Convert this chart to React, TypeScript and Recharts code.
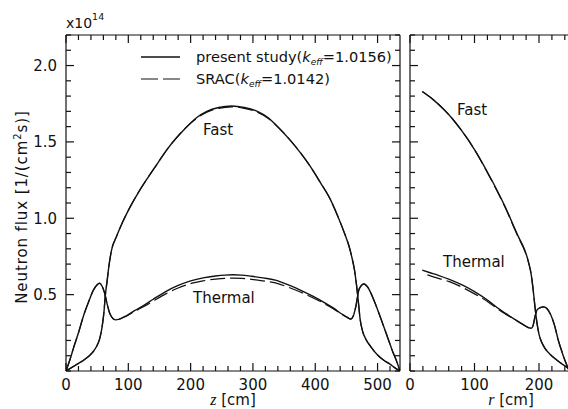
import React from 'react';
import { LineChart, Line, XAxis, YAxis } from 'recharts';

const FONT = "'DejaVu Sans', sans-serif";
const INK = '#111';

// ---------- Left panel: axial distribution, z [cm] ----------
const zFast = [0, 8, 18, 28, 40, 49, 54, 58, 61, 63, 66, 68, 73, 81, 92, 103, 117, 132, 147, 162, 178, 194, 210, 226, 245, 266, 286, 307, 324, 342, 360, 376, 392, 408, 424, 436, 448, 454, 459, 463, 466, 469, 472, 476, 481, 489, 500, 510, 520, 528, 536];
const fastZPresent = [0, 0.02, 0.045, 0.07, 0.11, 0.16, 0.21, 0.29, 0.39, 0.49, 0.59, 0.66, 0.79, 0.88, 0.985, 1.075, 1.175, 1.27, 1.36, 1.45, 1.53, 1.60, 1.66, 1.70, 1.725, 1.735, 1.725, 1.70, 1.66, 1.59, 1.51, 1.43, 1.34, 1.235, 1.125, 1.015, 0.89, 0.82, 0.74, 0.66, 0.57, 0.46, 0.34, 0.26, 0.21, 0.16, 0.105, 0.07, 0.045, 0.02, 0];
const fastZSrac = [0, 0.02, 0.045, 0.07, 0.11, 0.16, 0.21, 0.29, 0.39, 0.49, 0.59, 0.66, 0.79, 0.88, 0.985, 1.075, 1.175, 1.27, 1.36, 1.45, 1.53, 1.60, 1.655, 1.695, 1.72, 1.73, 1.72, 1.695, 1.655, 1.59, 1.51, 1.43, 1.34, 1.235, 1.125, 1.015, 0.89, 0.82, 0.74, 0.66, 0.57, 0.46, 0.34, 0.26, 0.21, 0.16, 0.105, 0.07, 0.045, 0.02, 0];

const zTherm = [0, 6, 12, 20, 28, 36, 44, 50, 54, 58, 62, 66, 70, 75, 79, 86, 96, 110, 125, 140, 160, 180, 200, 220, 240, 255, 268, 282, 298, 316, 336, 356, 376, 396, 416, 430, 442, 450, 457, 461, 465, 470, 474, 478, 484, 494, 502, 510, 517, 524, 530, 536];
const thermZPresent = [0, 0.07, 0.15, 0.25, 0.36, 0.45, 0.53, 0.565, 0.575, 0.555, 0.51, 0.44, 0.38, 0.345, 0.335, 0.34, 0.36, 0.395, 0.43, 0.47, 0.52, 0.56, 0.59, 0.61, 0.622, 0.628, 0.63, 0.628, 0.62, 0.61, 0.595, 0.565, 0.53, 0.49, 0.445, 0.41, 0.375, 0.355, 0.34, 0.36, 0.42, 0.53, 0.56, 0.57, 0.55, 0.465, 0.38, 0.29, 0.21, 0.13, 0.07, 0];
const thermZSrac = [0, 0.07, 0.15, 0.25, 0.36, 0.45, 0.53, 0.565, 0.575, 0.555, 0.51, 0.44, 0.38, 0.345, 0.335, 0.34, 0.357, 0.39, 0.422, 0.458, 0.505, 0.543, 0.572, 0.59, 0.602, 0.607, 0.608, 0.606, 0.6, 0.59, 0.577, 0.55, 0.517, 0.48, 0.438, 0.405, 0.372, 0.353, 0.34, 0.36, 0.42, 0.53, 0.56, 0.57, 0.55, 0.465, 0.38, 0.29, 0.21, 0.13, 0.07, 0];

// ---------- Right panel: radial distribution, r [cm] ----------
const rFast = [19, 35, 53, 66, 79, 100, 121, 147, 168, 178, 184, 188, 191, 194, 197, 200, 204, 209, 217, 228, 236, 243, 246];
const fastRPresent = [1.83, 1.78, 1.71, 1.65, 1.58, 1.45, 1.295, 1.08, 0.88, 0.79, 0.71, 0.63, 0.53, 0.41, 0.31, 0.24, 0.19, 0.15, 0.11, 0.07, 0.045, 0.025, 0.015];
const fastRSrac = [1.83, 1.78, 1.71, 1.65, 1.58, 1.45, 1.29, 1.075, 0.875, 0.785, 0.705, 0.63, 0.53, 0.41, 0.31, 0.24, 0.19, 0.15, 0.11, 0.07, 0.045, 0.025, 0.015];

const rTherm = [19, 30, 45, 61, 80, 100, 120, 140, 160, 175, 183, 188, 191, 194, 197, 202, 207, 212, 218, 224, 230, 236, 241, 246];
const thermRPresent = [0.66, 0.645, 0.625, 0.60, 0.565, 0.52, 0.465, 0.40, 0.345, 0.305, 0.285, 0.28, 0.30, 0.36, 0.40, 0.415, 0.42, 0.41, 0.37, 0.30, 0.20, 0.12, 0.06, 0.01];
const rThermSrac = [27, 45, 61, 80, 100, 120, 140, 160, 175, 183, 188, 191, 194, 197, 202, 207, 212, 218, 224, 230, 236, 241, 246];
const thermRSrac = [0.63, 0.605, 0.585, 0.55, 0.505, 0.455, 0.395, 0.343, 0.305, 0.285, 0.28, 0.30, 0.36, 0.40, 0.415, 0.42, 0.41, 0.37, 0.30, 0.20, 0.12, 0.06, 0.01];

// ---------- Ticks ----------
const yTicks = [0, 0.1, 0.2, 0.3, 0.4, 0.5, 0.6, 0.7, 0.8, 0.9, 1.0, 1.1, 1.2, 1.3, 1.4, 1.5, 1.6, 1.7, 1.8, 1.9, 2.0, 2.1, 2.2];
const yLabels = ['0.5', '1.0', '1.5', '2.0'];
const zTicks = [0, 20, 40, 60, 80, 100, 120, 140, 160, 180, 200, 220, 240, 260, 280, 300, 320, 340, 360, 380, 400, 420, 440, 460, 480, 500, 520];
const zLabels = ['0', '100', '200', '300', '400', '500'];
const rTicks = [0, 20, 40, 60, 80, 100, 120, 140, 160, 180, 200, 220, 240];
const rLabels = ['0', '100', '200'];

const zip = (xs: number[], vs: number[]) => xs.map((x, i) => ({ x, v: vs[i] }));

const fmtY = (v: number) => Number(v).toFixed(1);
const fmtX = (v: number) => String(Math.round(Number(v)));

const MAJ = 8;
const MIN = 5;

const BottomTick = (props: any) => {
  const x = Number(props.x), y = Number(props.y);
  const lbl = fmtX(props.payload.value);
  const major = props.labels.includes(lbl);
  return (
    <g>
      <path d={`M${x},${y}V${y - (major ? MAJ : MIN)}`} stroke={INK} strokeWidth={1.2} fill="none" />
      {major && (
        <text x={x} y={y + 19} textAnchor="middle" fontFamily={FONT} fontSize={15} fill={INK}>{lbl}</text>
      )}
    </g>
  );
};

const TopTick = (props: any) => {
  const x = Number(props.x), y = Number(props.y);
  const major = props.labels.includes(fmtX(props.payload.value));
  return <path d={`M${x},${y}V${y + (major ? MAJ : MIN)}`} stroke={INK} strokeWidth={1.2} fill="none" />;
};

const LeftTick = (props: any) => {
  const x = Number(props.x), y = Number(props.y);
  const lbl = fmtY(props.payload.value);
  const major = props.labels.includes(lbl);
  return (
    <g>
      <path d={`M${x},${y}H${x + (major ? MAJ : MIN)}`} stroke={INK} strokeWidth={1.2} fill="none" />
      {major && props.showLabel && (
        <text x={x - 9} y={y + 5.5} textAnchor="end" fontFamily={FONT} fontSize={15} fill={INK}>{lbl}</text>
      )}
    </g>
  );
};

const RightTick = (props: any) => {
  const x = Number(props.x), y = Number(props.y);
  const major = props.labels.includes(fmtY(props.payload.value));
  return <path d={`M${x},${y}H${x - (major ? MAJ : MIN)}`} stroke={INK} strokeWidth={1.2} fill="none" />;
};

const SOLID = { stroke: INK, strokeWidth: 1.4, dot: false, isAnimationActive: false, type: 'monotone' as const };
const DASH = { stroke: INK, strokeWidth: 1.2, strokeDasharray: '15 5', dot: false, isAnimationActive: false, type: 'monotone' as const };

const LeftPanel = () => (
  <LineChart width={410} height={409} margin={{ top: 0, right: 0, bottom: 0, left: 0 }}>
    <XAxis xAxisId="b" orientation="bottom" type="number" dataKey="x" domain={[0, 536]} ticks={zTicks} interval={0}
      height={38} tickSize={0} tickMargin={0} tickLine={false} axisLine={{ stroke: INK, strokeWidth: 1.2 }}
      tick={<BottomTick labels={zLabels} />} allowDataOverflow />
    <XAxis xAxisId="t" orientation="top" type="number" dataKey="x" domain={[0, 536]} ticks={zTicks} interval={0}
      height={35} tickSize={0} tickMargin={0} tickLine={false} axisLine={{ stroke: INK, strokeWidth: 1.2 }}
      tick={<TopTick labels={zLabels} />} allowDataOverflow />
    <YAxis yAxisId="l" orientation="left" type="number" domain={[0, 2.2]} ticks={yTicks} interval={0}
      width={66} tickSize={0} tickMargin={0} tickLine={false} axisLine={{ stroke: INK, strokeWidth: 1.2 }}
      tick={<LeftTick labels={yLabels} showLabel />} allowDataOverflow />
    <YAxis yAxisId="r" orientation="right" type="number" domain={[0, 2.2]} ticks={yTicks} interval={0}
      width={10} tickSize={0} tickMargin={0} tickLine={false} axisLine={{ stroke: INK, strokeWidth: 1.2 }}
      tick={<RightTick labels={yLabels} />} allowDataOverflow />
    <Line xAxisId="b" yAxisId="l" data={zip(zFast, fastZSrac)} dataKey="v" {...DASH} />
    <Line xAxisId="b" yAxisId="l" data={zip(zTherm, thermZSrac)} dataKey="v" {...DASH} />
    <Line xAxisId="b" yAxisId="l" data={zip(zFast, fastZPresent)} dataKey="v" {...SOLID} />
    <Line xAxisId="b" yAxisId="l" data={zip(zTherm, thermZPresent)} dataKey="v" {...SOLID} />
  </LineChart>
);

const RightPanel = () => (
  <LineChart width={170} height={409} margin={{ top: 0, right: 0, bottom: 0, left: 0 }}>
    <XAxis xAxisId="b" orientation="bottom" type="number" dataKey="x" domain={[0, 246.5]} ticks={rTicks} interval={0}
      height={38} tickSize={0} tickMargin={0} tickLine={false} axisLine={{ stroke: INK, strokeWidth: 1.2 }}
      tick={<BottomTick labels={rLabels} />} allowDataOverflow />
    <XAxis xAxisId="t" orientation="top" type="number" dataKey="x" domain={[0, 246.5]} ticks={rTicks} interval={0}
      height={35} tickSize={0} tickMargin={0} tickLine={false} axisLine={{ stroke: INK, strokeWidth: 1.2 }}
      tick={<TopTick labels={rLabels} />} allowDataOverflow />
    <YAxis yAxisId="l" orientation="left" type="number" domain={[0, 2.2]} ticks={yTicks} interval={0}
      width={11} tickSize={0} tickMargin={0} tickLine={false} axisLine={{ stroke: INK, strokeWidth: 1.2 }}
      tick={<LeftTick labels={yLabels} showLabel={false} />} allowDataOverflow />
    <Line xAxisId="b" yAxisId="l" data={zip(rFast, fastRSrac)} dataKey="v" {...DASH} />
    <Line xAxisId="b" yAxisId="l" data={zip(rThermSrac, thermRSrac)} dataKey="v" {...DASH} />
    <Line xAxisId="b" yAxisId="l" data={zip(rFast, fastRPresent)} dataKey="v" {...SOLID} />
    <Line xAxisId="b" yAxisId="l" data={zip(rTherm, thermRPresent)} dataKey="v" {...SOLID} />
  </LineChart>
);

const Annotations = () => (
  <svg width={568} height={409} style={{ position: 'absolute', left: 0, top: 0, pointerEvents: 'none' }}>
    <g fontFamily={FONT} fill={INK}>
      <text x={66} y={28} fontSize={14}>x10<tspan dy={-8} fontSize={9.5}>14</tspan></text>
      <text transform="translate(27,207) rotate(-90)" textAnchor="middle" fontSize={15} letterSpacing={0.9}>
        Neutron flux [1/(cm<tspan dy={-6} fontSize={10}>2</tspan><tspan dy={6}>s)]</tspan>
      </text>
      <text x={233} y={405} textAnchor="middle" fontSize={15}>
        <tspan fontFamily="'Liberation Serif', serif" fontStyle="italic" fontSize={16}>z</tspan> [cm]
      </text>
      <text x={511} y={405} textAnchor="middle" fontSize={15}>
        <tspan fontFamily="'Liberation Serif', serif" fontStyle="italic" fontSize={16}>r</tspan> [cm]
      </text>
      <line x1={141} y1={57} x2={180} y2={57} stroke={INK} strokeWidth={1.4} />
      <line x1={141} y1={79} x2={180} y2={79} stroke={INK} strokeWidth={1.2} strokeDasharray="17 5" />
      <text x={196} y={62} fontSize={14.6}>present study(<tspan fontStyle="italic">k</tspan><tspan fontStyle="italic" fontSize={9} dy={3}>eff</tspan><tspan dy={-3}>=1.0156)</tspan></text>
      <text x={196} y={84} fontSize={14.6}>SRAC(<tspan fontStyle="italic">k</tspan><tspan fontStyle="italic" fontSize={9} dy={3}>eff</tspan><tspan dy={-3}>=1.0142)</tspan></text>
      <text x={203} y={135} fontSize={15}>Fast</text>
      <text x={193} y={303} fontSize={15}>Thermal</text>
      <text x={457} y={115} fontSize={15}>Fast</text>
      <text x={443} y={267} fontSize={15}>Thermal</text>
    </g>
  </svg>
);

export default function App() {
  return (
    <div style={{ position: 'fixed', left: 0, top: 0, width: 568, height: 409, overflow: 'hidden', background: '#fff' }}>
      <div style={{ position: 'absolute', left: 0, top: 0 }}>
        <LeftPanel />
      </div>
      <div style={{ position: 'absolute', left: 399, top: 0 }}>
        <RightPanel />
      </div>
      <Annotations />
    </div>
  );
}
